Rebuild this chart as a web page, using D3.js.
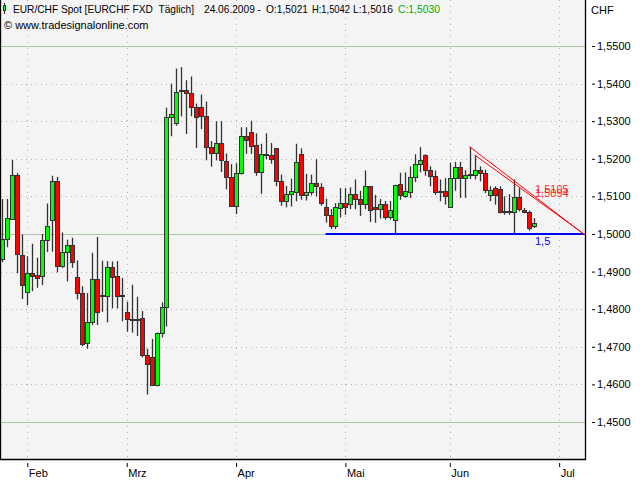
<!DOCTYPE html>
<html><head><meta charset="utf-8">
<script src="https://cdn.jsdelivr.net/npm/d3@7"></script>
<style>
html,body{margin:0;padding:0;background:#fff;}
svg{display:block;font-family:"Liberation Sans",Arial,sans-serif;}
</style></head>
<body>
<svg id="c" width="640" height="480"></svg>
<script>
// ---- data (bar index 0 = 26.01.2009, weekdays) ----
const opens  = [1.4934,1.4987,1.5041,1.5158,1.4944,1.4846,1.4897,1.4892,1.4888,1.4985,
1.5036,1.5142,1.4914,1.4951,1.4972,1.4885,1.4843,1.4711,1.4766,1.4881,
1.4838,1.4836,1.4912,1.4887,1.4837,1.4793,1.4774,1.4775,1.4777,1.4679,
1.4673,1.4599,1.4736,1.4805,1.5312,1.5294,1.5379,1.5384,1.5376,1.5338,
1.5338,1.5315,1.5232,1.5216,1.5243,1.5193,1.5152,1.5075,1.5162,1.5261,
1.5271,1.5237,1.5164,1.5213,1.5210,1.5228,1.5142,1.5087,1.5106,1.5113,
1.5212,1.5103,1.5112,1.5135,1.5125,1.5072,1.5051,1.5020,1.5070,1.5082,
1.5079,1.5106,1.5093,1.5079,1.5127,1.5071,1.5066,1.5079,1.5046,1.5038,
1.5133,1.5102,1.5113,1.5152,1.5187,1.5209,1.5171,1.5155,1.5115,1.5115,
1.5073,1.5149,1.5179,1.5149,1.5160,1.5158,1.5171,1.5161,1.5104,1.5122,
1.5120,1.5062,1.5060,1.5058,1.5098,1.5064,1.5059,1.5021];
const highs  = [1.5093,1.5093,1.5197,1.5162,1.4998,1.4941,1.4974,1.4937,1.5000,1.5081,
1.5155,1.5152,1.5004,1.4985,1.4990,1.4930,1.4861,1.4843,1.4950,1.4992,
1.4929,1.4928,1.4927,1.4928,1.4883,1.4820,1.4865,1.4833,1.4795,1.4695,
1.4721,1.4738,1.4818,1.5336,1.5400,1.5440,1.5444,1.5409,1.5419,1.5347,
1.5371,1.5352,1.5247,1.5300,1.5300,1.5214,1.5186,1.5188,1.5284,1.5284,
1.5301,1.5268,1.5240,1.5268,1.5242,1.5228,1.5158,1.5128,1.5147,1.5240,
1.5228,1.5160,1.5158,1.5199,1.5135,1.5094,1.5066,1.5082,1.5122,1.5122,
1.5124,1.5145,1.5115,1.5169,1.5127,1.5104,1.5093,1.5088,1.5088,1.5131,
1.5163,1.5164,1.5180,1.5212,1.5231,1.5212,1.5180,1.5169,1.5145,1.5149,
1.5189,1.5192,1.5192,1.5170,1.5232,1.5210,1.5180,1.5171,1.5127,1.5127,
1.5127,1.5100,1.5106,1.5145,1.5122,1.5069,1.5062,1.5042];
const lows   = [1.4925,1.4965,1.5038,1.4896,1.4827,1.4811,1.4848,1.4857,1.4864,1.4952,
1.4953,1.4898,1.4910,1.4874,1.4910,1.4826,1.4702,1.4695,1.4758,1.4758,
1.4793,1.4765,1.4802,1.4802,1.4768,1.4740,1.4738,1.4729,1.4672,1.4573,
1.4596,1.4595,1.4725,1.4754,1.5260,1.5288,1.5313,1.5266,1.5313,1.5229,
1.5279,1.5196,1.5179,1.5196,1.5165,1.5119,1.5074,1.5053,1.5158,1.5213,
1.5213,1.5155,1.5107,1.5199,1.5187,1.5127,1.5075,1.5071,1.5073,1.5087,
1.5091,1.5089,1.5103,1.5100,1.5075,1.5030,1.5013,1.5013,1.5044,1.5051,
1.5066,1.5066,1.5048,1.5066,1.5032,1.5030,1.5041,1.5038,1.5038,1.5002,
1.5091,1.5096,1.5096,1.5138,1.5164,1.5155,1.5127,1.5104,1.5087,1.5078,
1.5073,1.5115,1.5096,1.5096,1.5146,1.5145,1.5140,1.5109,1.5087,1.5078,
1.5055,1.5051,1.5051,1.5002,1.5060,1.5055,1.5009,1.5016];
const closes = [1.4987,1.5042,1.5158,1.4947,1.4865,1.4896,1.4888,1.4883,1.4985,1.5022,
1.5142,1.4914,1.4952,1.4972,1.4926,1.4843,1.4708,1.4766,1.4881,1.4793,
1.4835,1.4911,1.4886,1.4835,1.4834,1.4773,1.4772,1.4772,1.4677,1.4654,
1.4599,1.4736,1.4805,1.5312,1.5320,1.5378,1.5384,1.5375,1.5338,1.5312,
1.5314,1.5232,1.5216,1.5243,1.5198,1.5152,1.5075,1.5161,1.5261,1.5249,
1.5235,1.5164,1.5213,1.5209,1.5200,1.5140,1.5087,1.5106,1.5115,1.5192,
1.5103,1.5112,1.5135,1.5127,1.5082,1.5050,1.5020,1.5071,1.5082,1.5071,
1.5106,1.5093,1.5079,1.5127,1.5063,1.5066,1.5079,1.5046,1.5064,1.5131,
1.5103,1.5115,1.5152,1.5187,1.5196,1.5169,1.5154,1.5112,1.5111,1.5100,
1.5149,1.5179,1.5149,1.5158,1.5157,1.5171,1.5163,1.5116,1.5118,1.5103,
1.5058,1.5058,1.5058,1.5098,1.5067,1.5058,1.5015,1.5030];

const monthLabels = ["Feb","Mrz","Apr","Mai","Jun","Jul"];
const monthIndex  = [5,25,47,69,90,112];
const priceTicks  = [1.45,1.46,1.47,1.48,1.49,1.50,1.51,1.52,1.53,1.54,1.55];
const majorTicks  = [1.45,1.50,1.55];

// trend lines (start/end in bar index & price) and their labels
const trendStartIdx = [94,95];
const trendStartVal = [1.5232,1.5210];
const trendEndIdx   = [117.1,117.1];
const trendEndVal   = [1.4998,1.4999];
const trendLabels   = ["1,5105","1,5094"];
const trendLabelVal = [1.5105,1.5094];
const supportVal = 1.5, supportStartIdx = 65, supportEndIdx = 117.1, supportLabel = "1,5";

const headerTexts = ["EUR/CHF Spot [EURCHF FXD\u00a0\u00a0Täglich]", "24.06.2009 -",
  "O:1,5021", "H:1,5042", "L:1,5016", "C:1,5030"];
const headerColors = ["#000","#000","#000","#000","#000","#00b000"];

// ---- layout ----
const svg = d3.select("#c");
const PL=0, PR=586, PT=0, PB=460;
const x = d3.scaleLinear().domain([0,117]).range([2.45,584]);
const y = d3.scaleLinear().domain([1.45,1.55]).range([422,46]);

svg.append("rect").attr("x",PL).attr("y",PT).attr("width",PR-PL).attr("height",PB-PT).attr("fill","#f4f4f4");

const g = svg.append("g");
const isMajor = d=>majorTicks.some(m=>Math.abs(m-d)<1e-9);
g.selectAll("line.hg").data(priceTicks).join("line")
  .attr("x1",PL+1).attr("x2",PR)
  .attr("y1",d=>Math.round(y(d))+0.5).attr("y2",d=>Math.round(y(d))+0.5)
  .attr("stroke",d=>isMajor(d)?"#a8c9a2":"#b0b0b0")
  .attr("stroke-dasharray",d=>isMajor(d)?null:"1,4");
g.selectAll("line.vg").data(monthIndex).join("line")
  .attr("x1",d=>Math.round(x(d))+0.5).attr("x2",d=>Math.round(x(d))+0.5)
  .attr("y1",PT).attr("y2",PB)
  .attr("stroke","#b0b0b0").attr("stroke-dasharray","1,5");

// candles
const idx = d3.range(opens.length);
const cg = svg.append("g");
idx.forEach(i=>{
  const left = Math.round(x(i))-2;
  const o=opens[i], c=closes[i];
  cg.append("line").attr("x1",left+2.5).attr("x2",left+2.5)
    .attr("y1",y(highs[i])).attr("y2",y(lows[i]))
    .attr("stroke","#333").attr("stroke-width",1.3);
  const top = Math.round(y(Math.max(o,c))), bot = Math.round(y(Math.min(o,c)));
  cg.append("rect").attr("x",left+0.5).attr("y",top+0.5)
    .attr("width",4).attr("height",Math.max(1,bot-top))
    .attr("fill",c>=o?"#00ff00":"#ff0000").attr("stroke","#333").attr("stroke-width",1);
});

// support line
svg.append("line").attr("x1",x(supportStartIdx)).attr("x2",x(supportEndIdx))
  .attr("y1",y(supportVal)).attr("y2",y(supportVal))
  .attr("stroke","#0000ff").attr("stroke-width",2);
svg.append("text").attr("x",535).attr("y",y(supportVal)+11)
  .attr("font-size",11).attr("fill","#0000ff").text(supportLabel);

// trend lines
trendStartIdx.forEach((s,k)=>{
  svg.append("line").attr("x1",x(s)).attr("y1",y(trendStartVal[k]))
    .attr("x2",x(trendEndIdx[k])).attr("y2",y(trendEndVal[k]))
    .attr("stroke","#ff0000").attr("stroke-width",1);
  svg.append("text").attr("x",535).attr("y",y(trendLabelVal[k])-2)
    .attr("font-size",11).attr("fill","#ff0000").attr("fill-opacity",0.85).text(trendLabels[k]);
});

// frame
svg.append("path").attr("d",`M${PL+0.5},${PT} V${PB-0.5} H${PR-0.5} V${PT}`)
  .attr("fill","none").attr("stroke","#000").attr("stroke-width",1.3);

// right axis
const fmt = d=>d3.format(".4f")(d).replace(".",",");
const ra = svg.append("g").attr("transform","translate(592,0)")
  .call(d3.axisRight(y).tickValues(priceTicks).tickSize(3).tickPadding(2).tickFormat(fmt));
ra.select(".domain").remove();
ra.selectAll("text").attr("font-size",11).attr("font-family","Liberation Sans, Arial, sans-serif").attr("fill","#000");
ra.selectAll("line").attr("stroke","#000");
svg.append("text").attr("x",591).attr("y",14).attr("font-size",11).text("CHF");

// bottom axis
const ba = svg.append("g").attr("transform","translate(0,463)")
  .call(d3.axisBottom(x).tickValues(monthIndex).tickSize(4).tickFormat((d,i)=>monthLabels[i]));
ba.select(".domain").remove();
ba.selectAll("line").attr("stroke","#000");
ba.selectAll("text").attr("text-anchor","start").attr("x",1).attr("y",14).attr("dy",0)
  .attr("font-size",11).attr("font-family","Liberation Sans, Arial, sans-serif").attr("fill","#000");

// header
svg.append("line").attr("x1",4.5).attr("x2",4.5).attr("y1",3).attr("y2",14).attr("stroke","#333");
svg.append("rect").attr("x",3.5).attr("y",5.5).attr("width",2).attr("height",5)
  .attr("fill","#00ff00").attr("stroke","#333");
const hx = [13,204,266,312,353,398];
const hw = [181,57,42,38,40,42];
const hd = svg.append("g").attr("font-size",11);
headerTexts.forEach((t,k)=>{
  hd.append("text").attr("x",hx[k]).attr("y",13).attr("fill",headerColors[k])
    .attr("textLength",hw[k]).attr("lengthAdjust","spacingAndGlyphs").text(t);
});
hd.append("text").attr("x",4).attr("y",29).attr("fill","#000").text("© www.tradesignalonline.com");
</script>
</body></html>
